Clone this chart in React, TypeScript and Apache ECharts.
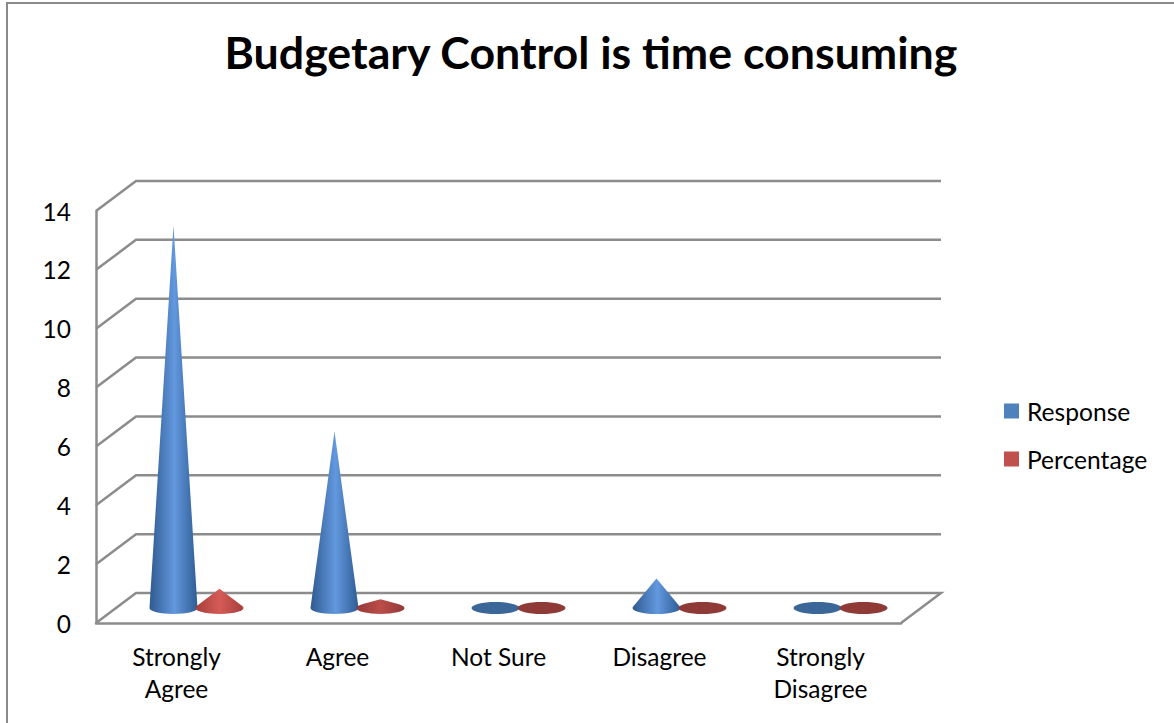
import React, { useEffect, useRef } from "react";
import * as echarts from "echarts";

const categories = ["Strongly\nAgree", "Agree", "Not Sure", "Disagree", "Strongly\nDisagree"];
const responseValues = [13, 6, 0, 1, 0];
const percentageValues = [0.65, 0.3, 0, 0.05, 0];
const yTicks = [0, 2, 4, 6, 8, 10, 12, 14];

const FONT = "Lato, 'Open Sans', sans-serif";
const GRID_COLOR = "#8c8c8c";
// Oblique projection of the chart's depth axis, in pixels.
const DEPTH_X = 40;
const DEPTH_Y = 30;
const CONE_RX = 24;
const CONE_RY = 6;
const CONE_SHIFT = 23;
// Below this height a cone is seen mostly from above and reads darker.
const SHALLOW_HEIGHT = 15;

function shade(edgeL: string, mid: string, edgeR: string, midAt = 0.5) {
  return {
    type: "linear",
    x: 0,
    y: 0,
    x2: 1,
    y2: 0,
    colorStops: [
      { offset: 0, color: edgeL },
      { offset: midAt, color: mid },
      { offset: 1, color: edgeR },
    ],
  };
}

// Builds a renderItem that draws a cone sitting halfway along the depth axis.
function coneRenderer(shift: number, fill: object, shallow: object, flat: string) {
  return (_params: any, api: any) => {
    const [x, top] = api.coord([api.value(0), api.value(1)]);
    const [, base] = api.coord([api.value(0), 0]);
    const cx = x + DEPTH_X / 2 + shift;
    const cy = base - DEPTH_Y / 2;
    const h = base - top;
    if (h <= CONE_RY) {
      return {
        type: "ellipse",
        shape: { cx, cy, rx: CONE_RX, ry: CONE_RY },
        style: { fill: flat },
      };
    }
    // Silhouette: tangents from the apex to the base ellipse.
    const ty = (CONE_RY * CONE_RY) / h;
    const tx = CONE_RX * Math.sqrt(1 - (CONE_RY * CONE_RY) / (h * h));
    const d =
      `M${cx - tx} ${cy - ty}L${cx} ${cy - h}L${cx + tx} ${cy - ty}` +
      `A${CONE_RX} ${CONE_RY} 0 1 1 ${cx - tx} ${cy - ty}Z`;
    return {
      type: "path",
      shape: {
        pathData: d,
        x: cx - CONE_RX,
        y: cy - h,
        width: CONE_RX * 2,
        height: h + CONE_RY,
        layout: "cover",
      },
      style: { fill: h < SHALLOW_HEIGHT ? shallow : fill },
    };
  };
}

// Back wall and side wall rules for every value tick.
function wallRenderer(params: any, api: any) {
  const sys = params.coordSys;
  const [, y] = api.coord([0, api.value(1)]);
  const left = sys.x;
  const right = sys.x + sys.width;
  const points =
    api.value(1) === 0
      ? [
          [left, y],
          [left + DEPTH_X, y - DEPTH_Y],
          [right + DEPTH_X, y - DEPTH_Y],
          [right, y],
        ]
      : [
          [left, y],
          [left + DEPTH_X, y - DEPTH_Y],
          [right + DEPTH_X, y - DEPTH_Y],
        ];
  return {
    type: "polyline",
    shape: { points },
    style: { stroke: GRID_COLOR, lineWidth: 2.5, fill: "none" },
  };
}

export default function App() {
  const ref = useRef<HTMLDivElement>(null);

  useEffect(() => {
    document.body.style.margin = "0";
    const chart = echarts.init(ref.current!, undefined, { renderer: "svg" });
    chart.setOption({
      animation: false,
      backgroundColor: "#ffffff",
      title: {
        text: "Budgetary Control is time consuming",
        left: 591,
        top: 29,
        padding: 0,
        textAlign: "center",
        textStyle: { fontFamily: FONT, fontSize: 44.7, fontWeight: "bold", color: "#000000" },
      },
      legend: {
        orient: "vertical",
        left: 1004,
        top: 396,
        padding: 0,
        data: ["Response", "Percentage"],
        icon: "rect",
        itemWidth: 15,
        itemHeight: 15,
        itemGap: 18,
        textStyle: {
          fontFamily: FONT,
          fontSize: 24.6,
          lineHeight: 30,
          color: "#000000",
          padding: [0, 0, 0, 3],
        },
      },
      grid: { left: 96, top: 211, width: 805, height: 412 },
      xAxis: {
        type: "category",
        data: categories,
        axisLine: { show: true, lineStyle: { color: GRID_COLOR, width: 2.5 } },
        axisTick: { show: false },
        axisLabel: {
          fontFamily: FONT,
          fontSize: 24.5,
          color: "#000000",
          lineHeight: 32,
          margin: 17,
          interval: 0,
        },
      },
      yAxis: {
        type: "value",
        min: 0,
        max: 14,
        interval: 2,
        splitLine: { show: false },
        axisLine: { show: true, lineStyle: { color: GRID_COLOR, width: 2.5 } },
        axisTick: { show: false },
        axisLabel: { fontFamily: FONT, fontSize: 24.5, color: "#000000", margin: 25 },
      },
      graphic: [
        {
          type: "polyline",
          silent: true,
          shape: { points: [[7, 723], [7, 3], [1174, 3]] },
          style: { stroke: "#8a8a8a", lineWidth: 2, fill: "none" },
        },
      ],
      series: [
        {
          type: "custom",
          name: "Walls",
          z: 1,
          silent: true,
          renderItem: wallRenderer,
          encode: { x: 0, y: 1 },
          data: yTicks.map((v) => [0, v]),
        },
        {
          type: "custom",
          name: "Response",
          z: 2,
          itemStyle: { color: "#4f81bd" },
          renderItem: coneRenderer(
            -CONE_SHIFT,
            shade("#2f5a90", "#6298de", "#2f5c94", 0.52),
            shade("#2f5a90", "#4f81bd", "#2f5c94"),
            "#3b6698",
          ),
          encode: { x: 0, y: 1 },
          data: responseValues.map((v, i) => [i, v]),
        },
        {
          type: "custom",
          name: "Percentage",
          z: 3,
          itemStyle: { color: "#c0504d" },
          renderItem: coneRenderer(
            CONE_SHIFT,
            shade("#a63e3b", "#d55b57", "#a63e3b"),
            shade("#93393a", "#bb4d49", "#93393a"),
            "#8f3a37",
          ),
          encode: { x: 0, y: 1 },
          data: percentageValues.map((v, i) => [i, v]),
        },
      ],
    });
    return () => chart.dispose();
  }, []);

  return <div ref={ref} style={{ position: "fixed", left: 0, top: 0, width: 1174, height: 723 }} />;
}
